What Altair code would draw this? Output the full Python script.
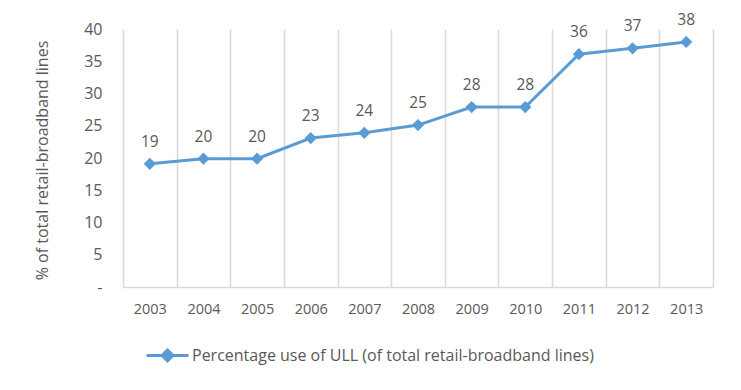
import altair as alt
import pandas as pd

years = ["2003", "2004", "2005", "2006", "2007", "2008", "2009", "2010", "2011", "2012", "2013"]
values = [19.1, 19.9, 19.9, 23.1, 23.9, 25.1, 27.9, 27.9, 36.1, 37.0, 38.0]
series_name = "Percentage use of ULL (of total retail-broadband lines)"
y_ticks = [0, 5, 10, 15, 20, 25, 30, 35, 40]

df = pd.DataFrame({"year": years, "value": values, "series": [series_name] * len(years)})

FONT = "Open Sans"
GREY = "#595959"
BLUE = "#5B9BD5"

x_enc = alt.X(
    "year:O",
    title=None,
    scale=alt.Scale(type="band", paddingInner=0, paddingOuter=0),
    bandPosition=0.5,
    axis=alt.Axis(
        labelAngle=0,
        grid=True,
        gridColor="#D9D9D9",
        gridWidth=1.5,
        tickBand="extent",
        ticks=False,
        domainColor="#D9D9D9",
        domainWidth=1.5,
        labelFont=FONT,
        labelFontSize=14.5,
        labelColor=GREY,
        labelPadding=15,
    ),
)
y_enc = alt.Y(
    "value:Q",
    scale=alt.Scale(domain=[0, 40], nice=False, zero=True),
    axis=alt.Axis(
        title="% of total retail-broadband lines",
        values=y_ticks,
        grid=False,
        ticks=False,
        domain=False,
        labelFont=FONT,
        labelFontSize=16,
        labelColor=GREY,
        labelPadding=21,
        labelExpr="datum.value == 0 ? '-\u00a0\u00a0\u00a0\u00a0' : datum.label",
        titleFont=FONT,
        titleFontSize=16,
        titleFontWeight="normal",
        titleColor=GREY,
        titleX=-81,
        titleY=131,
        titleAlign="center",
        titleBaseline="middle",
        titleAngle=-90,
    ),
)

# line + diamond legend glyph (nested diamonds so the stroke fills the marker)
legend_symbol = (
    "M-1,0H1"
    "M0,-0.26L0.26,0L0,0.26L-0.26,0Z"
    "M0,-0.17L0.17,0L0,0.17L-0.17,0Z"
    "M0,-0.09L0.09,0L0,0.09L-0.09,0Z"
)

color_enc = alt.Color(
    "series:N",
    scale=alt.Scale(domain=[series_name], range=[BLUE]),
    legend=alt.Legend(
        title=None,
        orient="none",
        legendX=22,
        legendY=304,
        symbolType=legend_symbol,
        symbolSize=1764,
        symbolStrokeWidth=3,
        symbolFillColor=BLUE,
        symbolStrokeColor=BLUE,
        symbolOpacity=1,
        labelFont=FONT,
        labelFontSize=16,
        labelColor=GREY,
        labelOffset=2,
        labelLimit=600,
    ),
)

base = alt.Chart(df).encode(x=x_enc, y=y_enc)

line = base.mark_line(strokeWidth=3).encode(color=color_enc)
points = base.mark_point(shape="diamond", filled=True, size=150, opacity=1, color=BLUE)
labels = base.mark_text(dy=-22, font=FONT, fontSize=15.5, color=GREY).encode(
    text=alt.Text("value:Q", format=".0f")
)

chart = (
    alt.layer(line, points, labels)
    .properties(
        width=590,
        height=258,
        autosize=alt.AutoSizeParams(type="none"),
        padding={"left": 115, "top": 21, "right": 20, "bottom": 95},
    )
    .configure_view(stroke=None)
)

chart.save("out.html", embed_options={"renderer": "svg", "actions": False})
